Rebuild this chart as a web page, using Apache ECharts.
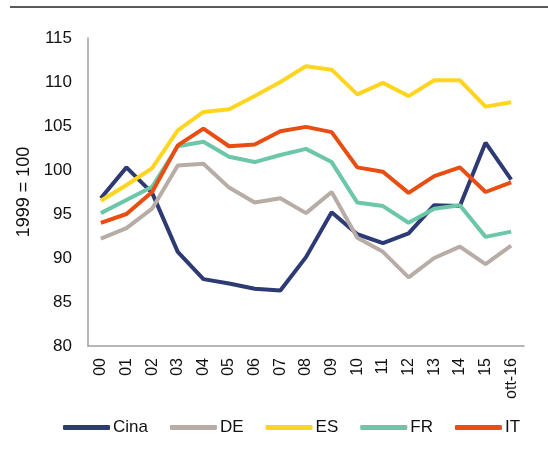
<!DOCTYPE html>
<html>
<head>
<meta charset="utf-8">
<script src="https://cdn.jsdelivr.net/npm/echarts@6/dist/echarts.min.js"></script>
<style>
	html, body { margin: 0; padding: 0; background: #fff; }
	#chart { width: 548px; height: 452px; }
</style>
</head>
<body>
<div id="chart"></div>
<script>
	// categorie (anni)
	const years = ['00', '01', '02', '03', '04', '05', '06', '07', '08', '09', '10', '11', '12', '13', '14', '15', 'ott-16']

	// 1999 = 100
	const cina = [96.8, 100.3, 97.4, 90.7, 87.6, 87.1, 86.5, 86.3, 90.1, 95.2, 92.7, 91.7, 92.8, 96.0, 95.9, 103.1, 98.9]
	const de = [92.2, 93.4, 95.6, 100.5, 100.7, 98.0, 96.3, 96.8, 95.1, 97.5, 92.3, 90.7, 87.8, 90.0, 91.3, 89.3, 91.4]
	const es = [96.5, 98.3, 100.2, 104.5, 106.6, 106.9, 108.4, 110.0, 111.8, 111.4, 108.6, 109.9, 108.4, 110.2, 110.2, 107.2, 107.7]
	const fr = [95.1, 96.6, 98.1, 102.7, 103.2, 101.5, 100.9, 101.7, 102.4, 100.9, 96.3, 95.9, 94.0, 95.6, 96.0, 92.4, 93.0]
	const it = [94.0, 95.0, 97.5, 102.8, 104.7, 102.7, 102.9, 104.4, 104.9, 104.3, 100.3, 99.8, 97.4, 99.3, 100.3, 97.5, 98.6]

	const seriesNames = ['Cina', 'DE', 'ES', 'FR', 'IT']
	const seriesData = [cina, de, es, fr, it]
	const colors = ['#2e3a74', '#b8aca6', '#ffd520', '#6cc7a8', '#e84e12']

	const chart = echarts.init(document.getElementById('chart'), null, { renderer: 'canvas' })

	const series = seriesData.map((item, index) => {
		return {
			name: seriesNames[index],
			type: 'line',
			data: item,
			symbol: 'none',
			smooth: false,
			lineStyle: {
				width: 4,
				color: colors[index]
			},
			itemStyle: {
				color: colors[index]
			}
		}
	})

	chart.setOption({
		animation: false,
		backgroundColor: '#fff',
		textStyle: {
			fontFamily: 'Liberation Sans, Arial, sans-serif'
		},
		graphic: [{
			type: 'line',
			shape: { x1: 10, y1: 7, x2: 548, y2: 7 },
			style: { stroke: '#222', lineWidth: 1.5 }
		}],
		legend: {
			left: 58,
			top: 414,
			icon: 'roundRect',
			itemWidth: 47,
			itemHeight: 5,
			itemGap: 22,
			textStyle: {
				fontSize: 17,
				color: '#111',
				padding: [0, 0, 0, -2]
			},
			data: seriesNames
		},
		grid: {
			left: 88,
			right: 24,
			top: 38,
			bottom: 106
		},
		xAxis: {
			type: 'category',
			boundaryGap: true,
			data: years,
			axisLine: {
				lineStyle: { color: '#a0a0a0', width: 1.5 }
			},
			axisTick: { show: false },
			axisLabel: {
				rotate: 90,
				margin: 12,
				fontSize: 16,
				color: '#111',
				interval: 0
			}
		},
		yAxis: {
			type: 'value',
			min: 80,
			max: 115,
			interval: 5,
			name: '1999 = 100',
			nameLocation: 'middle',
			nameGap: 51,
			nameRotate: 90,
			nameTextStyle: {
				fontSize: 18,
				color: '#111'
			},
			axisLine: {
				show: true,
				lineStyle: { color: '#a0a0a0', width: 1.5 }
			},
			axisTick: { show: false },
			splitLine: { show: false },
			axisLabel: {
				margin: 16,
				fontSize: 17,
				color: '#111'
			}
		},
		series: series
	})
</script>
</body>
</html>
